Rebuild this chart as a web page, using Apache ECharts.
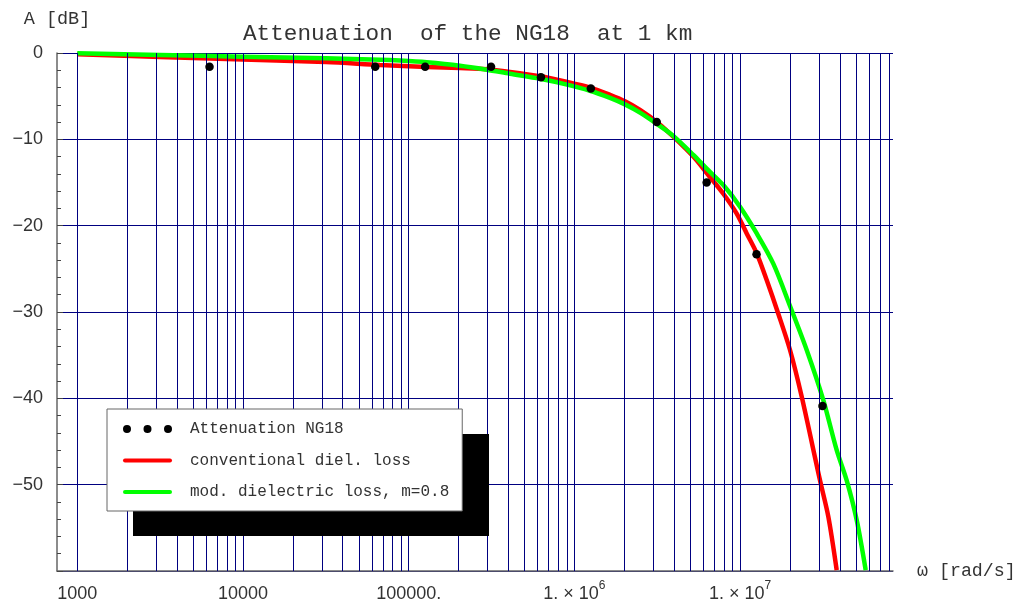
<!DOCTYPE html>
<html>
<head>
<meta charset="utf-8">
<script src="https://cdn.jsdelivr.net/npm/echarts@6/dist/echarts.min.js"></script>
<style>
  html, body { margin: 0; padding: 0; background: #fff; }
  #chart { width: 1020px; height: 600px; }
</style>
</head>
<body>
<div id="chart"></div>
<script>
// Measured attenuation of the NG18 cable over 1 km (angular frequency in rad/s, attenuation in dB)
const omegaPoints = [6283, 62832, 125664, 314159, 628319, 1256637, 3141593, 6283185, 12566371, 31415927];
const attenPoints = [-1.6, -1.6, -1.6, -1.6, -2.8, -4.1, -8.0, -15.0, -23.3, -40.9];

// Model with conventional dielectric loss
const omegaConv = [1000, 3155, 10000, 31700, 67100, 128400, 204000, 295600, 408700, 620000, 877500,
  1242000, 1640000, 2020000, 2489000, 3195000, 3953000, 5219000, 6287000, 7918000, 9539000,
  10960000, 12600000, 14470000, 17000000, 20010000, 23530000, 30350000, 34070000, 38280000];
const attenConv = [-0.15, -0.45, -0.75, -1.05, -1.39, -1.62, -1.75, -1.89, -2.2, -2.7, -3.3,
  -4.0, -4.85, -5.6, -6.6, -8.1, -9.7, -12.0, -13.9, -16.3, -18.6,
  -20.9, -23.2, -26.3, -30.2, -34.4, -39.8, -49.5, -53.7, -59.9];

// Model with modified dielectric loss, m = 0.8
const omegaMod = [1000, 3155, 10000, 31700, 67100, 88600, 128400, 204000, 295600, 408700, 620000,
  877500, 1242000, 1640000, 2020000, 2489000, 3195000, 3953000, 5219000, 6287000, 7918000,
  9986000, 12600000, 15860000, 20010000, 25230000, 31780000, 38280000, 43980000, 50540000, 57280000];
const attenMod = [-0.03, -0.22, -0.42, -0.62, -0.78, -0.88, -1.08, -1.47, -1.93, -2.4, -2.98,
  -3.6, -4.37, -5.2, -5.95, -6.9, -8.3, -9.6, -11.8, -13.4, -15.3,
  -17.8, -20.9, -24.4, -29.3, -34.4, -40.2, -46.0, -49.5, -54.1, -59.9];

// Axis ranges and tick labels
const omegaMin = 754.5;
const omegaMax = 8.37e7;
const xTickExponents = [3, 4, 5, 6, 7];
const xTickLabels = ['1000', '10000', '100000.', '1. \u00d7 10', '1. \u00d7 10'];
const xTickPowers = ['', '', '', '6', '7'];
const yTickValues = [0, -10, -20, -30, -40, -50];
const gridMultipliers = [1, 2, 3, 4, 5, 6, 7, 8, 9];
const gridDecades = [1e3, 1e4, 1e5, 1e6, 1e7];

const seriesNames = ['Attenuation NG18', 'conventional diel. loss', 'mod. dielectric loss, m=0.8'];

const zip = (xs, ys) => xs.map((x, i) => [x, ys[i]]);

// vertical grid lines at every 1..9 multiple of each decade
const gridOmega = [];
gridDecades.forEach(d => gridMultipliers.forEach(m => {
  const v = d * m;
  if (v >= omegaMin && v <= omegaMax) gridOmega.push(v);
}));

const mono = 'Liberation Mono, Courier New, monospace';
const sans = 'Liberation Sans, Arial, sans-serif';
const textGrey = '#333';

const dotsIcon = 'path://M0,4a4,4 0 1,0 8,0a4,4 0 1,0 -8,0Z M20.5,4a4,4 0 1,0 8,0a4,4 0 1,0 -8,0Z M41,4a4,4 0 1,0 8,0a4,4 0 1,0 -8,0Z';
const barIcon = 'path://M2,0H47A2,2 0 0 1 47,4H2A2,2 0 0 1 2,0Z';

// legend box placement; its drop shadow is a solid offset block behind it
const legendLeft = 107, legendTop = 409, legendW = 356, legendH = 102;
const shadowDX = 26, shadowDY = 25;

const chart = echarts.init(document.getElementById('chart'), null, { renderer: 'canvas' });

chart.setOption({
  animation: false,
  backgroundColor: '#fff',
  title: {
    text: 'Attenuation  of the NG18  at 1 km',
    left: 243,
    top: 22,
    padding: 0,
    textStyle: { fontFamily: mono, fontSize: 22.7, fontWeight: 'normal', color: textGrey }
  },
  grid: { left: 57, top: 53, width: 836, height: 518, containLabel: false, outerBoundsMode: 'none' },
  graphic: [{
    type: 'rect',
    left: legendLeft + shadowDX,
    top: legendTop + shadowDY,
    z: 8,
    silent: true,
    shape: { width: legendW, height: legendH },
    style: { fill: '#000' }
  }],
  legend: {
    data: [
      { name: seriesNames[0], icon: dotsIcon },
      { name: seriesNames[1], icon: barIcon },
      { name: seriesNames[2], icon: barIcon }
    ],
    orient: 'vertical',
    left: legendLeft,
    top: legendTop,
    itemWidth: 49,
    itemHeight: 18,
    itemGap: 13.5,
    padding: [11, 13, 10, 16],
    selectedMode: false,
    backgroundColor: '#fff',
    borderColor: '#666',
    borderWidth: 1,
    z: 10,
    itemStyle: { borderWidth: 0 },
    textStyle: { fontFamily: mono, fontSize: 16, color: textGrey, lineHeight: 18, padding: [0, 0, 0, 13] }
  },
  xAxis: {
    type: 'log',
    logBase: 10,
    min: omegaMin,
    max: omegaMax,
    name: '\u03c9 [rad/s]',
    nameLocation: 'end',
    nameGap: 24,
    nameTextStyle: { fontFamily: mono, fontSize: 18.3, color: textGrey },
    axisLine: { show: true, onZero: false, lineStyle: { color: '#666', width: 1.5 } },
    axisTick: { show: false },
    splitLine: { show: false },
    axisLabel: {
      margin: 9,
      color: textGrey,
      fontFamily: sans,
      fontSize: 18,
      formatter: function (v) {
        const e = Math.round(Math.log10(v));
        if (Math.abs(Math.log10(v) - e) > 1e-6) return '';
        const i = xTickExponents.indexOf(e);
        if (i < 0) return '';
        return '{b|' + xTickLabels[i] + '}' + (xTickPowers[i] ? '{sup|' + xTickPowers[i] + '}' : '');
      },
      rich: {
        b: { fontFamily: sans, fontSize: 18, color: textGrey, padding: [5, 0, 0, 0] },
        sup: { fontFamily: sans, fontSize: 12, color: textGrey, verticalAlign: 'top' }
      }
    }
  },
  yAxis: {
    type: 'value',
    min: -60,
    max: 0,
    interval: 10,
    name: 'A [dB]',
    nameLocation: 'end',
    nameGap: 24,
    nameTextStyle: { fontFamily: mono, fontSize: 18.5, color: textGrey },
    axisLine: { show: true, onZero: false, lineStyle: { color: '#666', width: 1.5 } },
    axisTick: { show: true, inside: true, length: 6, lineStyle: { color: '#444' } },
    minorTick: { show: true, splitNumber: 5, length: 4, lineStyle: { color: '#444' } },
    splitLine: { show: true, lineStyle: { color: '#000080', width: 1 } },
    axisLabel: {
      margin: 14,
      color: textGrey,
      fontFamily: sans,
      fontSize: 18,
      formatter: v => (yTickValues.indexOf(v) < 0 ? '' : (v === 0 ? '0' : '\u2212' + Math.abs(v)))
    }
  },
  series: [
    {
      name: 'grid',
      type: 'line',
      data: [],
      silent: true,
      z: 1,
      markLine: {
        silent: true,
        animation: false,
        symbol: ['none', 'none'],
        label: { show: false },
        emphasis: { disabled: true },
        lineStyle: { type: 'solid', color: '#000080', width: 1, opacity: 1 },
        data: gridOmega.map(v => ({ xAxis: v }))
      }
    },
    {
      name: seriesNames[1],
      type: 'line',
      data: zip(omegaConv, attenConv),
      symbol: 'none',
      smooth: 0.3,
      z: 3,
      itemStyle: { color: '#ff0000' },
      lineStyle: { color: '#ff0000', width: 4.5 }
    },
    {
      name: seriesNames[2],
      type: 'line',
      data: zip(omegaMod, attenMod),
      symbol: 'none',
      smooth: 0.3,
      z: 4,
      itemStyle: { color: '#00ff00' },
      lineStyle: { color: '#00ff00', width: 4.5 }
    },
    {
      name: seriesNames[0],
      type: 'scatter',
      data: zip(omegaPoints, attenPoints),
      symbol: 'circle',
      symbolSize: 8.5,
      z: 5,
      itemStyle: { color: '#000', opacity: 1 }
    }
  ]
});
</script>
</body>
</html>
